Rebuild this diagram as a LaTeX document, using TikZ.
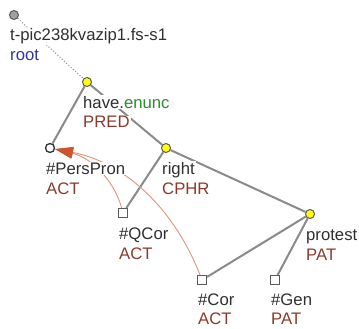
\documentclass[tikz,border=0pt]{standalone}
\usepackage{fontspec}
\setmainfont{Liberation Sans}
\usepackage{tikz}
\usetikzlibrary{arrows.meta,backgrounds}
\definecolor{EdgeGray}{HTML}{8A8A8A}
\definecolor{NodeYellow}{HTML}{FFFF00}
\definecolor{OutlineGray}{HTML}{5A5A5A}
\definecolor{RootGray}{HTML}{A0A0A0}
\definecolor{LabelDark}{HTML}{303030}
\definecolor{FunctorBrown}{HTML}{8B3B2B}
\definecolor{RootBlue}{HTML}{3434A0}
\definecolor{EnuncGreen}{HTML}{2E8B2E}
\definecolor{CorefLine}{HTML}{DE9478}
\definecolor{CorefTip}{HTML}{CC5530}

\begin{document}
\begin{tikzpicture}[x=1pt, y=-1pt,
  every node/.style={font=\fontsize{16.7}{20}\selectfont, inner sep=0pt},
  lexnode/.style={circle, fill=NodeYellow, draw=OutlineGray, line width=1pt, minimum size=9pt},
  rootnode/.style={circle, fill=RootGray, draw=OutlineGray, line width=1pt, minimum size=9pt},
  genode/.style={circle, fill=white, draw=LabelDark, line width=1.3pt, minimum size=9pt},
  newnode/.style={rectangle, fill=white, draw=OutlineGray, line width=1pt, minimum size=9pt},
  namelabel/.style={anchor=base west, fill=white, inner sep=1pt, text=LabelDark},
  funclabel/.style={anchor=base west, fill=white, inner sep=1pt, text=FunctorBrown},
  treeedge/.style={EdgeGray, line width=2pt},
  rootedge/.style={EdgeGray, line width=1pt, dotted},
  coref/.style={CorefLine, line width=0.9pt, -{Triangle[length=18pt, width=11pt, color=CorefTip]}}]
  \useasboundingbox (0,0) rectangle (359,329);

  \node[rootnode] (root) at (14,15) {};
  \node[lexnode] (have) at (87,82) {};
  \node[genode] (pers) at (50,148) {};
  \node[lexnode] (right) at (166,148) {};
  \node[newnode] (qcor) at (123,213) {};
  \node[lexnode] (protest) at (310,214) {};
  \node[newnode] (cor) at (202,280) {};
  \node[newnode] (gen) at (275,280) {};

  \node[namelabel] (rootName) at (9,41) {t-pic238kvazip1.fs-s1};
  \node[funclabel, text=RootBlue] (rootFunc) at (9,61) {root};
  \node[namelabel] (haveName) at (82,108) {have.\textcolor{EnuncGreen}{enunc}};
  \node[funclabel] (haveFunc) at (82,128) {PRED};
  \node[namelabel] (persName) at (45,174) {\#PersPron};
  \node[funclabel] (persFunc) at (45,194) {ACT};
  \node[namelabel] (rightName) at (161,174) {right};
  \node[funclabel] (rightFunc) at (161,194) {CPHR};
  \node[namelabel] (qcorName) at (118,239) {\#QCor};
  \node[funclabel] (qcorFunc) at (118,259) {ACT};
  \node[namelabel] (protestName) at (305,240) {protest};
  \node[funclabel] (protestFunc) at (305,260) {PAT};
  \node[namelabel] (corName) at (197,305) {\#Cor};
  \node[funclabel] (corFunc) at (197,324) {ACT};
  \node[namelabel] (genName) at (270,305) {\#Gen};
  \node[funclabel] (genFunc) at (270,324) {PAT};

  \begin{pgfonlayer}{background}
    \draw[rootedge] (root) -- (have);
    \draw[treeedge] (have) -- (pers);
    \draw[treeedge] (have) -- (right);
    \draw[treeedge] (right) -- (qcor);
    \draw[treeedge] (right) -- (protest);
    \draw[treeedge] (protest) -- (cor);
    \draw[treeedge] (protest) -- (gen);
    \draw[coref] (qcor) .. controls (113.7,179) and (90,157.3) .. (pers);
    \draw[coref] (cor) .. controls (173,206) and (122.7,162) .. (pers);
  \end{pgfonlayer}
\end{tikzpicture}
\end{document}
